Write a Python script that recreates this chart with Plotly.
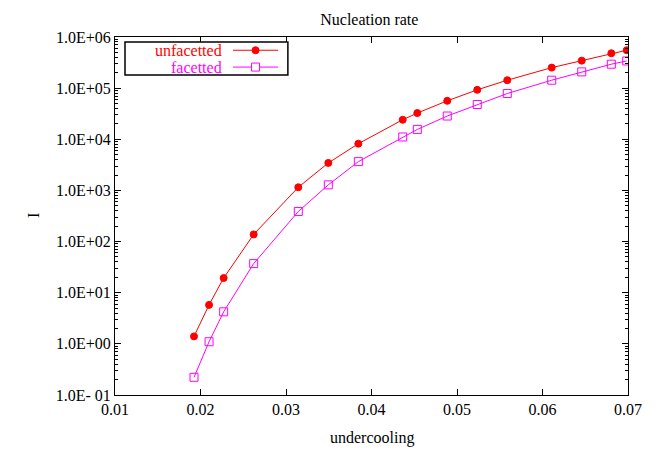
import plotly.graph_objects as go

# undercooling values (shared by both series)
undercooling = [0.01924, 0.0210, 0.02271, 0.02622, 0.03144, 0.03495, 0.03846, 0.04365,
                0.04536, 0.04886, 0.05237, 0.05588, 0.06108, 0.06459, 0.06805, 0.06985]

# nucleation rate I
rate_unfacetted = [1.40, 5.78, 19.4, 138, 1153, 3450, 8200, 24100,
                   32600, 56500, 92700, 143000, 252000, 345000, 481000, 551000]
rate_facetted = [0.222, 1.10, 4.23, 37.1, 388, 1285, 3660, 11100,
                 15600, 28500, 47900, 78500, 143000, 208000, 294000, 340000]

y_tickvals = [1e-1, 1e0, 1e1, 1e2, 1e3, 1e4, 1e5, 1e6]
y_ticktext = ["1.0E- 01", "1.0E+00", "1.0E+01", "1.0E+02",
              "1.0E+03", "1.0E+04", "1.0E+05", "1.0E+06"]
x_tickvals = [0.01, 0.02, 0.03, 0.04, 0.05, 0.06, 0.07]

RED = "#ff0000"
MAG = "#ff00ff"
FONT = "Liberation Serif"
FS = 16

fig = go.Figure()

fig.add_trace(go.Scatter(
    x=undercooling, y=rate_unfacetted, mode="lines+markers", name="unfacetted",
    line=dict(color=RED, width=1),
    marker=dict(symbol="circle", size=7, color=RED, line=dict(color=RED, width=1)),
    showlegend=False,
))
fig.add_trace(go.Scatter(
    x=undercooling, y=rate_facetted, mode="lines+markers", name="facetted",
    line=dict(color=MAG, width=1),
    marker=dict(symbol="square-open", size=8, color=MAG, line=dict(width=1)),
    showlegend=False,
))

# minor log ticks
minor_vals = [m * 10 ** e for e in range(-1, 6) for m in range(2, 10)]

axis_common = dict(
    showline=True, linecolor="black", linewidth=1, mirror="allticks",
    ticks="inside", ticklen=6, tickcolor="black", showgrid=False, zeroline=False,
    tickfont=dict(family=FONT, size=FS, color="black"), automargin=False,
)

fig.update_xaxes(
    range=[0.01, 0.07], tickmode="array", tickvals=x_tickvals,
    ticktext=["%.2f" % v for v in x_tickvals],
    **axis_common,
)
fig.update_yaxes(
    type="log", range=[-1, 6], tickmode="array", tickvals=y_tickvals, ticktext=y_ticktext,
    minor=dict(tickvals=minor_vals, ticks="inside", ticklen=3, tickcolor="black"),
    **axis_common,
)

annotations = [
    dict(text="undercooling", xref="paper", yref="paper", x=0.5, y=0, yshift=-32,
         xanchor="center", yanchor="top", showarrow=False,
         font=dict(family=FONT, size=FS, color="black")),
    dict(text="I", xref="paper", yref="paper", x=0, y=0.5, xshift=-82, textangle=-90,
         xanchor="center", yanchor="middle", showarrow=False,
         font=dict(family=FONT, size=FS, color="black")),
]

# hand-drawn legend box in gnuplot style (text left, sample right)
shapes = [dict(type="rect", xref="paper", yref="paper", x0=0.0195, x1=0.337, y0=0.894, y1=0.986,
               line=dict(color="black", width=1.5), fillcolor="white", layer="above")]
legend_items = [("unfacetted", RED, "circle", 0.963), ("facetted", MAG, "square", 0.916)]
for label, col, sym, yy in legend_items:
    annotations.append(dict(text=label, xref="paper", yref="paper", x=0.212, y=yy,
                            xanchor="right", yanchor="middle", showarrow=False,
                            font=dict(family=FONT, size=FS, color=col)))
    shapes.append(dict(type="line", xref="paper", yref="paper", x0=0.230, x1=0.318, y0=yy, y1=yy,
                       line=dict(color=col, width=1), layer="above"))
    mx = 0.274
    if sym == "circle":
        shapes.append(dict(type="circle", xref="paper", yref="paper", xsizemode="pixel",
                           ysizemode="pixel", xanchor=mx, yanchor=yy, x0=-3.5, x1=3.5, y0=-3.5, y1=3.5,
                           line=dict(color=col, width=1), fillcolor=col, layer="above"))
    else:
        shapes.append(dict(type="rect", xref="paper", yref="paper", xsizemode="pixel",
                           ysizemode="pixel", xanchor=mx, yanchor=yy, x0=-4, x1=4, y0=-4, y1=4,
                           line=dict(color=col, width=1), fillcolor="white", layer="above"))

# page body adds an 8px offset, so the figure is drawn 8px smaller
fig.update_layout(
    width=651, height=442,
    margin=dict(l=107, r=31, t=29, b=55),
    paper_bgcolor="white", plot_bgcolor="white",
    title=dict(text="Nucleation rate", x=0.555, xanchor="center", y=0.988, yanchor="top",
               font=dict(family=FONT, size=FS, color="black")),
    font=dict(family=FONT, size=FS, color="black"),
    shapes=shapes, annotations=annotations,
)

fig.write_html("out.html")
